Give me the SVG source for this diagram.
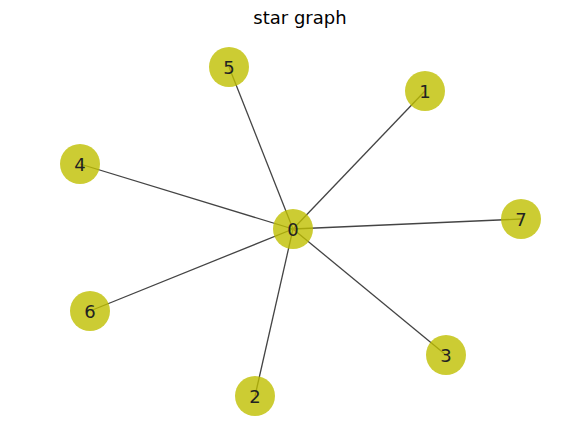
<svg xmlns="http://www.w3.org/2000/svg" width="562" height="439" viewBox="0 0 562 439">
<style>
.e{stroke:#444;stroke-width:1.3;fill:none}
.n circle{fill:#bfbf00;fill-opacity:0.8}
.n text{font-family:"DejaVu Sans",sans-serif;font-size:18px;fill:#222;text-anchor:middle;dominant-baseline:central}
.t{font-family:"DejaVu Sans",sans-serif;font-size:18px;fill:#000;text-anchor:middle}
</style>
<rect width="562" height="439" fill="#fff"/>
<text class="t" x="300" y="24">star graph</text>
<g id="edges">
<line class="e" x1="293" y1="229" x2="425" y2="91"/>
<line class="e" x1="293" y1="229" x2="229" y2="67"/>
<line class="e" x1="293" y1="229" x2="80" y2="164"/>
<line class="e" x1="293" y1="229" x2="521" y2="219"/>
<line class="e" x1="293" y1="229" x2="90" y2="311"/>
<line class="e" x1="293" y1="229" x2="446" y2="355"/>
<line class="e" x1="293" y1="229" x2="255" y2="396"/>
</g>
<g id="node0" class="n"><circle cx="293" cy="229" r="20"/><text x="293" y="229">0</text></g>
<g id="node1" class="n"><circle cx="425" cy="91" r="20"/><text x="425" y="91">1</text></g>
<g id="node2" class="n"><circle cx="255" cy="396" r="20"/><text x="255" y="396">2</text></g>
<g id="node3" class="n"><circle cx="446" cy="355" r="20"/><text x="446" y="355">3</text></g>
<g id="node4" class="n"><circle cx="80" cy="164" r="20"/><text x="80" y="164">4</text></g>
<g id="node5" class="n"><circle cx="229" cy="67" r="20"/><text x="229" y="67">5</text></g>
<g id="node6" class="n"><circle cx="90" cy="311" r="20"/><text x="90" y="311">6</text></g>
<g id="node7" class="n"><circle cx="521" cy="219" r="20"/><text x="521" y="219">7</text></g>
</svg>
